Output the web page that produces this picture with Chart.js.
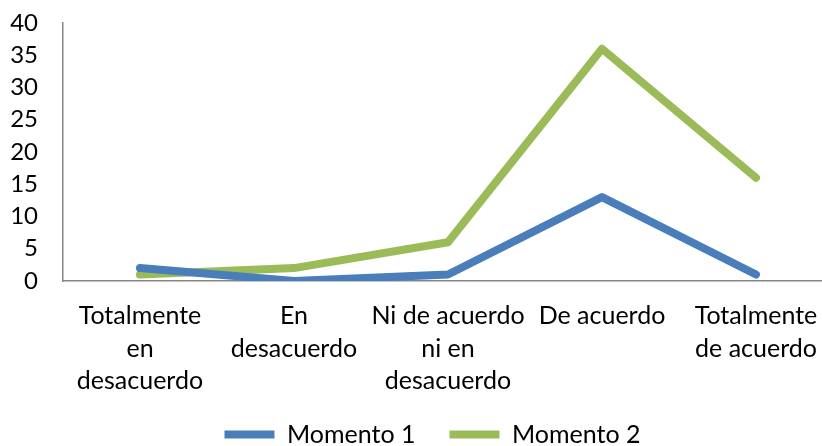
<!DOCTYPE html>
<html>
<head>
<meta charset="utf-8">
<script src="https://cdn.jsdelivr.net/npm/chart.js@4/dist/chart.umd.min.js"></script>
<style>
  html, body { margin: 0; padding: 0; background: #fff; overflow: hidden; }
  #wrap { position: absolute; left: 0; top: 0; width: 840px; height: 475px; }
</style>
</head>
<body>
<div id="wrap"><canvas id="c"></canvas></div>
<script>
const categories = [
  ["Totalmente", "en", "desacuerdo"],
  ["En", "desacuerdo"],
  ["Ni de acuerdo", "ni en", "desacuerdo"],
  ["De acuerdo"],
  ["Totalmente", "de acuerdo"]
];
const momento1 = [2, 0, 1, 13, 1];
const momento2 = [1, 2, 6, 36, 16];
const seriesNames = ["Momento 1", "Momento 2"];

const FONT = "Lato";
const legendShift = {
  id: 'legendShift',
  afterLayout(chart) {
    const lg = chart.legend;
    if (lg) { lg.left += 16; lg.right += 16; lg.top -= 18; lg.bottom -= 18; }
  }
};

new Chart(document.getElementById('c'), {
  type: 'line',
  data: {
    labels: categories,
    datasets: [
      { label: seriesNames[0], data: momento1, borderColor: '#4A7EBB', backgroundColor: '#4A7EBB',
        borderWidth: 8, borderCapStyle: 'round', borderJoinStyle: 'round', pointRadius: 0, tension: 0 },
      { label: seriesNames[1], data: momento2, borderColor: '#9BBB59', backgroundColor: '#9BBB59',
        borderWidth: 8, borderCapStyle: 'round', borderJoinStyle: 'round', pointRadius: 0, tension: 0 }
    ]
  },
  options: {
    responsive: true,
    maintainAspectRatio: false,
    animation: false,
    layout: { padding: { top: 23, right: 7, bottom: 0, left: 0 } },
    plugins: {
      legend: {
        position: 'bottom',
        labels: {
          usePointStyle: true,
          pointStyle: 'line',
          pointStyleWidth: 50,
          padding: 34,
          color: '#000',
          font: { family: FONT, size: 25 }
        }
      },
      tooltip: { enabled: false }
    },
    scales: {
      x: {
        offset: true,
        grid: { display: false, drawTicks: false },
        border: { display: true, color: '#868686', width: 1.5 },
        ticks: { color: '#000', maxRotation: 0, autoSkip: false, padding: 19,
                 font: { family: FONT, size: 25, lineHeight: 1.3 } },
        afterFit(scale) { scale.height = 125; }
      },
      y: {
        min: 0, max: 40,
        grid: { display: false, drawTicks: false },
        border: { display: true, color: '#868686', width: 1.5 },
        ticks: { stepSize: 5, autoSkip: false, color: '#000', padding: 25, font: { family: FONT, size: 24 } },
        afterFit(scale) { scale.width = 63; scale.paddingTop = 16; scale.paddingBottom = 16; }
      }
    }
  },
  plugins: [legendShift]
});
</script>
</body>
</html>
